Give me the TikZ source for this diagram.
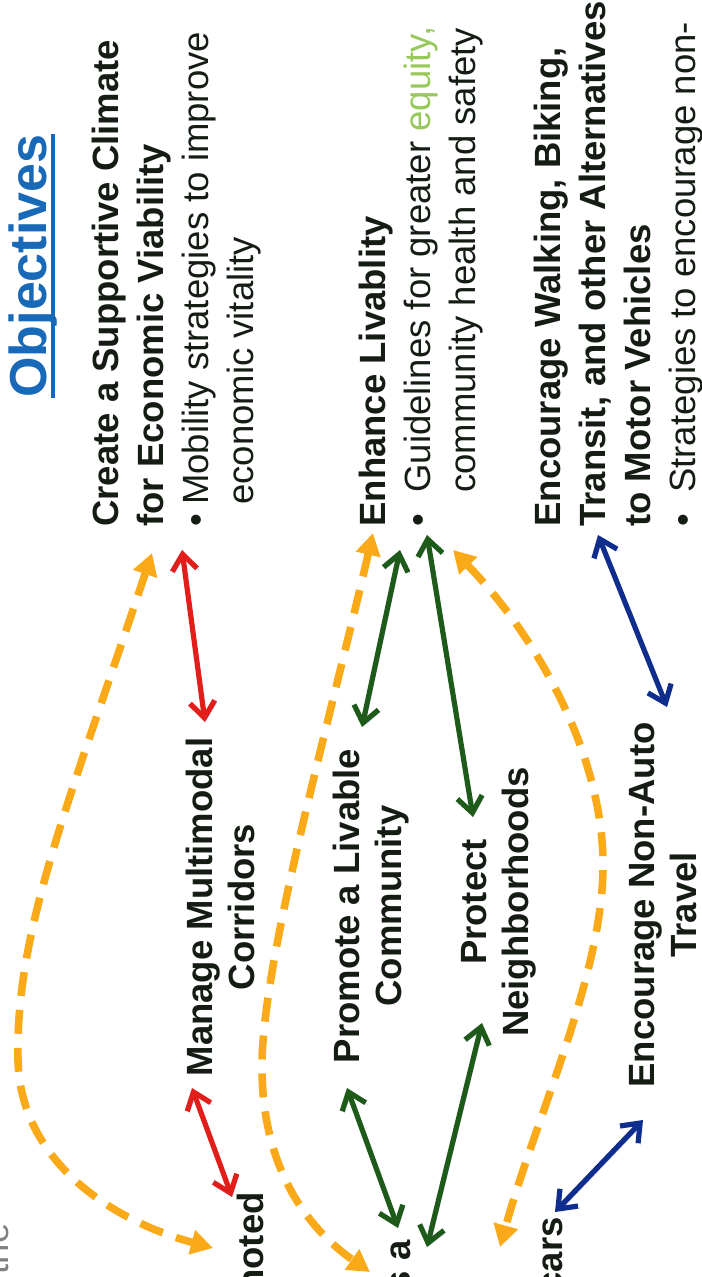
\documentclass[tikz,border=0pt]{standalone}
\usepackage{fontspec}
\setmainfont{Liberation Sans}
\usetikzlibrary{arrows.meta}
\definecolor{objblue}{RGB}{25,105,185}
\definecolor{ink}{RGB}{20,28,20}
\definecolor{eqgreen}{RGB}{150,200,90}
\definecolor{linkorange}{RGB}{250,170,25}
\definecolor{econred}{RGB}{225,30,25}
\definecolor{livgreen}{RGB}{30,90,25}
\definecolor{travblue}{RGB}{15,45,140}
\definecolor{arrowshade}{RGB}{215,210,240}

\begin{document}
\begin{tikzpicture}[x=0.5pt,y=-0.5pt,
    txt/.style = {rotate=90,inner sep=0pt,text=ink,font=\fontsize{18.25}{22.5}\selectfont},
    objective/.style = {txt,align=left,anchor=north west},
    strategy/.style = {txt,align=center,anchor=north,font=\bfseries\fontsize{18.25}{20.8}\selectfont},
    fragment/.style = {txt,anchor=base east,font=\bfseries\fontsize{18.25}{22.5}\selectfont},
    twoway/.style = {{Straight Barb[length=8pt,width=12.5pt]}-{Straight Barb[length=8pt,width=12.5pt]},line width=2.6pt,
        preaction={draw=arrowshade,transform canvas={shift={(1pt,-1pt)}}}},
    link/.style = {{Triangle[length=11pt,width=12pt]}-{Triangle[length=11pt,width=12pt]},draw=linkorange,line width=3.8pt,dash pattern=on 12pt off 7pt}]
\useasboundingbox (0,0) rectangle (701,1277);
\clip (0,0) rectangle (701,1277);

\node[txt,anchor=base west,text=objblue,font=\bfseries\fontsize{26}{30}\selectfont] (objectives) at (46,398) {Objectives};
\draw[objblue,line width=2.2pt] ([xshift=3.5pt]objectives.base west) -- ([xshift=3.5pt]objectives.base east);

\node[objective] (economy) at (92,527) {\textbf{Create a Supportive Climate}\\ \textbf{for Economic Viability}\\ •\hspace{.25em}Mobility strategies to improve\\ \hphantom{•\hspace{.25em}}economic vitality};
\node[objective] (livability) at (359,527) {\textbf{Enhance Livablity}\\ •\hspace{.58em}Guidelines for greater \textcolor{eqgreen}{equity,}\\ \hphantom{•\hspace{.58em}}community health and safety};
\node[objective] (alternatives) at (534,527) {\textbf{Encourage Walking, Biking,}\\ \textbf{Transit, and other Alternatives}\\ \textbf{to Motor Vehicles}\\ •\hspace{.58em}Strategies to encourage non-};

\node[strategy] (corridors) at (186,907) {Manage Multimodal\\Corridors};
\node[strategy] (community) at (333,906) {Promote a Livable\\Community};
\node[strategy] (neighborhoods) at (461,902) {Protect\\Neighborhoods};
\node[strategy] (nonauto) at (629,905) {Encourage Non-Auto\\Travel};

\node[fragment,font=\fontsize{18.25}{22.5}\selectfont,text=gray] (the) at (9,1223) {the};
\node[fragment] (noted) at (263,1192) {noted};
\node[fragment] (isa) at (410,1240) {s a};
\node[fragment] (cars) at (562,1217) {cars};

\coordinate (economy r) at (182,550);
\coordinate (corridors r) at (205,722);
\coordinate (corridors n) at (192,1088);
\coordinate (noted r) at (232,1197);
\coordinate (livability g1) at (400,550);
\coordinate (community g) at (362,727);
\coordinate (livability g2) at (427,535);
\coordinate (neighborhoods g) at (473,817);
\coordinate (neighborhoods s) at (482,1023);
\coordinate (isa g2) at (427,1247);
\coordinate (community s) at (347,1088);
\coordinate (isa g1) at (398,1228);
\coordinate (alternatives b) at (598,535);
\coordinate (nonauto b) at (667,707);
\coordinate (nonauto s) at (643,1120);
\coordinate (cars b) at (555,1212);
\coordinate (economy o) at (152,553);
\coordinate (noted o) at (213,1248);
\coordinate (livability o1) at (373,533);
\coordinate (isa o) at (370,1272);
\coordinate (livability o2) at (453,550);
\coordinate (cars o) at (500,1247);

\draw[twoway,econred] (economy r) -- (corridors r);
\draw[twoway,econred] (corridors n) -- (noted r);
\draw[twoway,livgreen] (livability g1) -- (community g);
\draw[twoway,livgreen] (livability g2) -- (neighborhoods g);
\draw[twoway,livgreen] (neighborhoods s) -- (isa g2);
\draw[twoway,livgreen] (community s) -- (isa g1);
\draw[twoway,travblue] (alternatives b) -- (nonauto b);
\draw[twoway,travblue] (nonauto s) -- (cars b);

\draw[link] (economy o) .. controls (70,800) and (15,930) .. (18,1060) .. controls (20,1160) and (110,1220) .. (noted o);
\draw[link] (livability o1) .. controls (330,720) and (265,950) .. (262,1060) .. controls (260,1170) and (310,1230) .. (isa o);
\draw[link] (livability o2) .. controls (540,640) and (605,760) .. (603,870) .. controls (601,980) and (535,1120) .. (cars o);
\end{tikzpicture}
\end{document}
